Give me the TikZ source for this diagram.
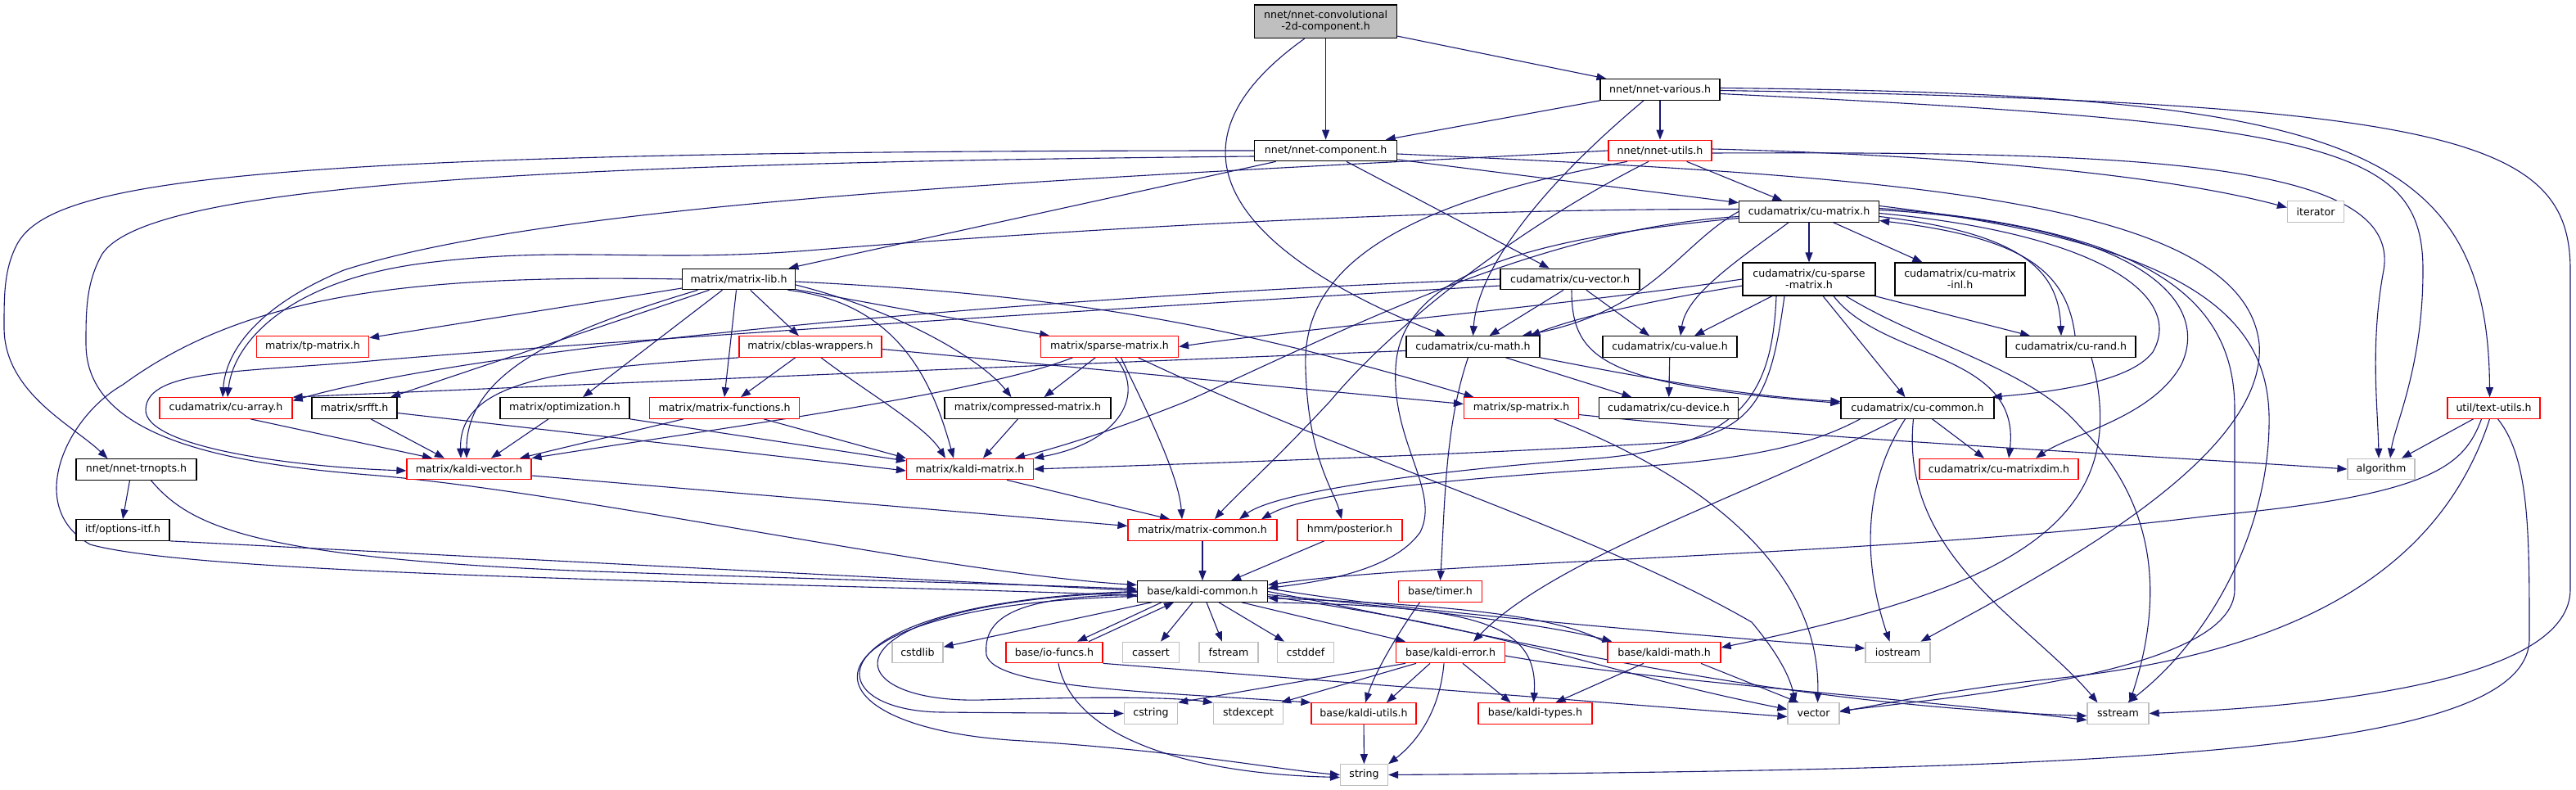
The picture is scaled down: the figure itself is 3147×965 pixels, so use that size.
\documentclass[tikz,border=0pt]{standalone}
\usepackage{fontspec}
\setmainfont{DejaVu Sans}
\usetikzlibrary{arrows.meta}
\pgfdeclarelayer{bg}
\pgfsetlayers{bg,main}
\definecolor{eb}{HTML}{191970}
\definecolor{gb}{HTML}{BFBFBF}
\definecolor{rb}{HTML}{FF0000}
\begin{document}
\begin{tikzpicture}[x=1pt,y=-1pt,
  nd/.style={draw=black, line width=1.2pt, fill=white, inner sep=0pt, minimum height=25.5pt, font=\fontsize{12.6}{14}\selectfont, align=center},
  rn/.style={nd, draw=rb},
  gn/.style={nd, draw=gb},
  e/.style={draw=eb, line width=1.1pt, -{Triangle[length=12pt,width=9pt]}}]
\useasboundingbox (0,0) rectangle (3147,965);
% nodes
\node[nd, fill=gb, minimum width=174pt, minimum height=40.7pt] (conv) at (1619.6,26.3) {nnet/nnet-convolutional\\-2d-component.h};
\node[nd, minimum width=146pt] (various) at (2028,109.5) {nnet/nnet-various.h};
\node[nd, minimum width=174pt] (comp) at (1619.6,184) {nnet/nnet-component.h};
\node[rn, minimum width=126pt] (utils) at (2028,184) {nnet/nnet-utils.h};
\node[nd, minimum width=171pt] (cumatrix) at (2210,258.5) {cudamatrix/cu-matrix.h};
\node[gn, minimum width=69pt] (iterator) at (2829,258.5) {iterator};
\node[nd, minimum width=138pt] (matlib) at (902.5,341) {matrix/matrix-lib.h};
\node[nd, minimum width=170pt] (cuvector) at (1918,341) {cudamatrix/cu-vector.h};
\node[nd, minimum width=162pt, minimum height=40pt] (cusparse) at (2210,341) {cudamatrix/cu-sparse\\-matrix.h};
\node[nd, minimum width=159pt, minimum height=40pt] (cuinl) at (2394.5,341) {cudamatrix/cu-matrix\\-inl.h};
\node[rn, minimum width=137pt] (tp) at (382,423.5) {matrix/tp-matrix.h};
\node[rn, minimum width=174pt] (cblas) at (990,423.5) {matrix/cblas-wrappers.h};
\node[rn, minimum width=168pt] (sparse) at (1355.5,423.5) {matrix/sparse-matrix.h};
\node[nd, minimum width=163pt] (cumath) at (1799.5,423.5) {cudamatrix/cu-math.h};
\node[nd, minimum width=164pt] (cuvalue) at (2040,423.5) {cudamatrix/cu-value.h};
\node[nd, minimum width=158pt] (curand) at (2530,423.5) {cudamatrix/cu-rand.h};
\node[rn, minimum width=162pt] (cuarray) at (276,498.5) {cudamatrix/cu-array.h};
\node[nd, minimum width=104pt] (srfft) at (433,498.5) {matrix/srfft.h};
\node[nd, minimum width=158pt] (optim) at (690,498.5) {matrix/optimization.h};
\node[rn, minimum width=183pt] (mfunc) at (885,498.5) {matrix/matrix-functions.h};
\node[nd, minimum width=203pt] (compr) at (1255.5,498.5) {matrix/compressed-matrix.h};
\node[rn, minimum width=140pt] (sp) at (1858.5,498.5) {matrix/sp-matrix.h};
\node[nd, minimum width=170pt] (cudevice) at (2038.5,498.5) {cudamatrix/cu-device.h};
\node[nd, minimum width=187pt] (cucommon) at (2342.5,498.5) {cudamatrix/cu-common.h};
\node[rn, minimum width=113pt] (textutils) at (3046.5,498.5) {util/text-utils.h};
\node[rn, minimum width=152pt] (kvec) at (573,573) {matrix/kaldi-vector.h};
\node[nd, minimum width=147pt] (trnopts) at (166.5,573.5) {nnet/nnet-trnopts.h};
\node[rn, minimum width=155pt] (kmat) at (1185,573) {matrix/kaldi-matrix.h};
\node[rn, minimum width=194pt] (cudim) at (2442,573) {cudamatrix/cu-matrixdim.h};
\node[gn, minimum width=82pt] (algorithm) at (2909,573) {algorithm};
\node[nd, minimum width=114pt] (optitf) at (150,647.5) {itf/options-itf.h};
\node[rn, minimum width=182pt] (mcommon) at (1469,647.5) {matrix/matrix-common.h};
\node[rn, minimum width=128pt] (posterior) at (1649,647.5) {hmm/posterior.h};
\node[nd, minimum width=159pt] (kcommon) at (1469,722.5) {base/kaldi-common.h};
\node[rn, minimum width=102pt] (timer) at (1759.5,722.5) {base/timer.h};
\node[gn, minimum width=62pt] (cstdlib) at (1121,797) {cstdlib};
\node[rn, minimum width=118pt] (iofuncs) at (1288,797) {base/io-funcs.h};
\node[gn, minimum width=69pt] (cassert) at (1406,797) {cassert};
\node[gn, minimum width=72pt] (fstream) at (1501,797) {fstream};
\node[gn, minimum width=69pt] (cstddef) at (1595,797) {cstddef};
\node[rn, minimum width=133pt] (kerror) at (1772,797) {base/kaldi-error.h};
\node[rn, minimum width=138pt] (kmath) at (2033,797) {base/kaldi-math.h};
\node[gn, minimum width=79pt] (iostream) at (2318.5,797) {iostream};
\node[gn, minimum width=65pt] (cstring) at (1406,871.5) {cstring};
\node[gn, minimum width=85pt] (stdexcept) at (1525,871.5) {stdexcept};
\node[rn, minimum width=128pt] (kutils) at (1666,871.5) {base/kaldi-utils.h};
\node[rn, minimum width=139pt] (ktypes) at (1875.5,871.5) {base/kaldi-types.h};
\node[gn, minimum width=63pt] (vector) at (2215.5,871.5) {vector};
\node[gn, minimum width=75pt] (sstream) at (2587.5,871.5) {sstream};
\node[gn, minimum width=58pt] (string) at (1666.5,946.5) {string};
\begin{pgfonlayer}{bg}
\fill[white] (0,0) rectangle (3147,965);
% conv
\draw[e] (conv) -- (comp);
\draw[e] (conv) -- (various);
\draw[e] ([xshift=-26]conv.south) .. controls (1380,200) and (1560,330) .. ([xshift=-34]cumath.north);
% various
\draw[e] (various) -- (comp);
\draw[e] (various) -- (utils);
\draw[e] ([xshift=-20]various.south) .. controls (1880,230) and (1805,330) .. (cumath.north);
\draw[e] ([yshift=2]various.east) .. controls (2850,115) and (3040,170) .. ([xshift=-5]textutils.north);
\draw[e] ([yshift=-1]various.east) .. controls (3000,125) and (3140,170) .. (3140,330) -- (3140,720) .. controls (3140,820) and (2900,860) .. (sstream.east);
\draw[e] ([yshift=-5]various.east) .. controls (2850,150) and (2960,180) .. (2960,330) .. controls (2960,450) and (2925,520) .. ([xshift=11]algorithm.north);
% comp
\draw[e] (comp) -- (matlib);
\draw[e] (comp) -- (cuvector);
\draw[e] (comp) -- (cumatrix);
\draw[e] (comp.west) .. controls (300,184) and (60,220) .. (20,300) .. controls (5,330) and (5,360) .. (5,400) .. controls (5,480) and (90,520) .. ([xshift=-35]trnopts.north);
\draw[e] ([yshift=-7]comp.west) .. controls (600,200) and (180,230) .. (125,310) .. controls (105,345) and (105,380) .. (105,420) .. controls (105,530) and (260,565) .. (450,580) .. controls (700,600) and (1150,700) .. ([yshift=8]kcommon.west);
\draw[e] ([yshift=-4]comp.east) .. controls (2300,215) and (2740,240) .. (2760,420) .. controls (2770,560) and (2500,700) .. ([xshift=28]iostream.north);
% utils
\draw[e] (utils) -- (cumatrix);
\draw[e] ([yshift=2]utils.east) .. controls (2400,190) and (2650,215) .. ([yshift=5]iterator.west);
\draw[e] ([yshift=-3]utils.east) .. controls (2600,185) and (2935,195) .. (2912,330) .. controls (2895,420) and (2905,500) .. ([xshift=-3]algorithm.north);
\draw[e] (utils.west) .. controls (1400,215) and (700,240) .. (420,330) .. controls (300,380) and (275,440) .. ([xshift=-4]cuarray.north);
\draw[e] ([xshift=-40]utils.south) .. controls (1700,250) and (1590,330) .. (1595,450) .. controls (1598,560) and (1630,600) .. ([xshift=-10]posterior.north);
\draw[e] ([xshift=-14]utils.south) .. controls (1850,280) and (1700,400) .. (1625,490) .. controls (1560,560) and (1505,610) .. ([xshift=15]mcommon.north);
% cumatrix
\draw[e] (cumatrix) -- (cusparse);
\draw[e] (cumatrix) -- (cuinl);
\draw[e] ([yshift=-6]cumatrix.east) .. controls (2470,285) and (2515,330) .. ([xshift=-12]curand.north);
\draw[e] ([xshift=5]curand.north) .. controls (2525,330) and (2470,290) .. ([yshift=-11]cumatrix.east);
\draw[e] ([yshift=-2]cumatrix.east) .. controls (2560,285) and (2670,360) .. (2630,430) .. controls (2600,470) and (2490,480) .. ([xshift=-3]cucommon.north east);
\draw[e] ([yshift=2]cumatrix.east) .. controls (2620,275) and (2700,370) .. (2665,445) .. controls (2630,510) and (2530,530) .. ([xshift=45]cudim.north);
\draw[e] ([yshift=4]cumatrix.east) .. controls (2650,280) and (2730,380) .. (2730,500) -- (2730,720) .. controls (2730,820) and (2400,850) .. ([yshift=3]vector.east);
\draw[e] ([yshift=7]cumatrix.east) .. controls (2700,300) and (2775,400) .. (2772,520) .. controls (2770,650) and (2700,780) .. ([xshift=12]sstream.north);
\draw[e] (cumatrix.west) .. controls (2050,300) and (2020,380) .. ([xshift=60]cumath.north);
\draw[e] ([xshift=-25]cumatrix.south) .. controls (2120,320) and (2060,360) .. ([xshift=13]cuvalue.north);
\draw[e] ([yshift=3]cumatrix.west) .. controls (1700,255) and (1250,285) .. (1000,305) .. controls (800,322) and (700,300) .. (530,320) .. controls (350,340) and (285,420) .. ([xshift=2]cuarray.north);
\draw[e] ([yshift=-6]cumatrix.west) .. controls (1880,280) and (1650,400) .. (1450,490) .. controls (1350,530) and (1280,550) .. ([xshift=55]kmat.north);
\draw[e] ([yshift=-8]cumatrix.west) .. controls (1880,290) and (1710,330) .. (1705,450) .. controls (1700,540) and (1760,600) .. (1735,650) .. controls (1700,700) and (1600,712) .. ([yshift=4]kcommon.east);
% matlib
\draw[e] (matlib) -- (tp);
\draw[e] (matlib) -- (cblas);
\draw[e] (matlib) -- (sparse);
\draw[e] ([xshift=-36]matlib.south) -- ([xshift=44]srfft.north);
\draw[e] ([xshift=-20]matlib.south) -- ([xshift=22]optim.north);
\draw[e] ([xshift=-3]matlib.south) -- (mfunc.north);
\draw[e] ([yshift=-7]matlib.east) .. controls (1100,380) and (1200,440) .. ([xshift=-20]compr.north);
\draw[e] ([yshift=-3]matlib.east) .. controls (1300,360) and (1500,395) .. ([xshift=-58]sp.north);
\draw[e] ([xshift=60]matlib.south) .. controls (1100,370) and (1140,470) .. ([xshift=-20]kmat.north);
\draw[e] ([xshift=-50]matlib.south) .. controls (700,400) and (570,450) .. ([xshift=-3]kvec.north);
\draw[e] (matlib.west) .. controls (500,335) and (300,360) .. (150,470) .. controls (80,510) and (30,620) .. (110,665) .. controls (250,705) and (1000,712) .. ([yshift=-5]kcommon.west);
% cblas
\draw[e] (cblas) -- ([xshift=20]mfunc.north);
\draw[e] ([xshift=13]cblas.south) .. controls (1060,480) and (1130,520) .. ([xshift=-30]kmat.north);
\draw[e] ([yshift=-3]cblas.east) -- ([yshift=5]sp.west);
\draw[e] (cblas.south west) .. controls (700,450) and (560,460) .. ([xshift=-10]kvec.north);
% sparse
\draw[e] ([xshift=-45]sparse.south) .. controls (1200,480) and (900,520) .. (kvec.north east);
\draw[e] (sparse) -- ([xshift=20]compr.north);
\draw[e] ([xshift=7]sparse.south) .. controls (1400,480) and (1370,540) .. (kmat.north east);
\draw[e] ([xshift=14]sparse.south) .. controls (1400,500) and (1440,580) .. ([xshift=-25]mcommon.north);
\draw[e] ([xshift=35]sparse.south) .. controls (1650,560) and (1950,650) .. (2140,760) .. controls (2165,790) and (2185,820) .. ([xshift=-22]vector.north);
% cuvector
\draw[e] ([xshift=-8]cuvector.south) -- ([xshift=20]cumath.north);
\draw[e] ([xshift=20]cuvector.south) -- ([xshift=-25]cuvalue.north);
\draw[e] ([xshift=2]cuvector.south) .. controls (1920,440) and (1960,470) .. ([yshift=6]cucommon.west);
\draw[e] (cuvector.west) .. controls (1300,360) and (600,420) .. ([yshift=9]cuarray.east);
\draw[e] ([yshift=-8]cuvector.west) .. controls (1300,380) and (700,420) .. (463,440) .. controls (300,455) and (180,450) .. (178,500) .. controls (176,545) and (350,570) .. ([yshift=-2]kvec.west);
% cusparse
\draw[e] (cusparse.west) .. controls (1900,375) and (1600,400) .. (sparse.east);
\draw[e] ([yshift=-8]cusparse.west) .. controls (2000,370) and (1920,390) .. ([xshift=70]cumath.north);
\draw[e] ([xshift=-45]cusparse.south) -- ([xshift=30]cuvalue.north);
\draw[e] (cusparse) -- ([xshift=-50]curand.north);
\draw[e] ([xshift=17]cusparse.south) -- ([xshift=-15]cucommon.north);
\draw[e] ([xshift=30]cusparse.south) .. controls (2300,440) and (2470,430) .. ([xshift=12]cudim.north);
\draw[e] ([xshift=-30]cusparse.south) .. controls (2165,470) and (2150,525) .. (2050,540) .. controls (1800,555) and (1500,565) .. (kmat.east);
\draw[e] ([xshift=-40]cusparse.south) .. controls (2165,480) and (2130,545) .. (1950,560) .. controls (1750,575) and (1560,600) .. ([xshift=45]mcommon.north);
\draw[e] ([xshift=45]cusparse.south) .. controls (2350,420) and (2480,450) .. (2540,520) .. controls (2600,580) and (2660,680) .. ([xshift=14]sstream.north);
% sp
\draw[e] ([xshift=40]sp.south) .. controls (2050,570) and (2225,680) .. ([xshift=5]vector.north);
\draw[e] ([yshift=-8]sp.east) .. controls (2200,535) and (2600,555) .. (algorithm.west);
% cumath
\draw[e] ([xshift=40]cumath.south) -- ([xshift=-45]cudevice.north);
\draw[e] (cumath.south east) .. controls (2050,470) and (2150,485) .. ([yshift=8]cucommon.west);
\draw[e] ([xshift=-6]cumath.south) .. controls (1765,520) and (1765,620) .. (timer.north);
\draw[e] ([yshift=-5]cumath.west) .. controls (1300,445) and (700,470) .. (cuarray.north east);
% others mid
\draw[e] (cuvalue) -- (cudevice);
\draw[e] ([xshift=25]curand.south) .. controls (2610,640) and (2450,720) .. ([yshift=6]kmath.east);
\draw[e] ([xshift=18]cucommon.south) -- ([xshift=-18]cudim.north);
\draw[e] ([xshift=-15]cucommon.south) .. controls (2270,600) and (2280,700) .. ([xshift=-10]iostream.north);
\draw[e] ([xshift=-5]cucommon.south) .. controls (2320,680) and (2480,760) .. ([xshift=-25]sstream.north);
\draw[e] ([xshift=-25]cucommon.south) .. controls (2150,600) and (1900,680) .. ([xshift=28]kerror.north);
\draw[e] ([xshift=-70]cucommon.south) .. controls (2220,540) and (2150,560) .. (2000,570) .. controls (1780,585) and (1600,600) .. ([xshift=72]mcommon.north);
% textutils
\draw[e] ([xshift=-25]textutils.south) -- ([xshift=25]algorithm.north);
\draw[e] ([xshift=-15]textutils.south) .. controls (3010,570) and (2970,605) .. (2700,630) .. controls (2300,680) and (1750,685) .. ([yshift=8]kcommon.east);
\draw[e] ([xshift=-5]textutils.south) .. controls (2980,700) and (2800,800) .. (2500,830) .. controls (2400,840) and (2300,860) .. ([yshift=2]vector.east);
\draw[e] ([xshift=5]textutils.south) .. controls (3090,560) and (3090,650) .. (3090,780) .. controls (3090,920) and (2600,940) .. (string.east);
% matrix level
\draw[e] ([xshift=30]cuarray.south) -- ([xshift=-45]kvec.north);
\draw[e] ([xshift=20]srfft.south) -- ([xshift=-30]kvec.north);
\draw[e] ([yshift=-6]srfft.east) -- ([yshift=-2]kmat.west);
\draw[e] ([xshift=-20]optim.south) -- ([xshift=27]kvec.north);
\draw[e] (optim.south east) -- ([yshift=10]kmat.west);
\draw[e] ([xshift=-50]mfunc.south) -- ([xshift=62]kvec.north);
\draw[e] ([xshift=48]mfunc.south) -- (kmat.north west);
\draw[e] ([xshift=-12]compr.south) -- ([xshift=16]kmat.north);
\draw[e] ([yshift=-8]kvec.east) -- ([yshift=5]mcommon.west);
\draw[e] ([xshift=45]kmat.south) -- ([xshift=-40]mcommon.north);
\draw[e] ([xshift=-8]trnopts.south) -- (optitf.north);
\draw[e] ([xshift=18]trnopts.south) .. controls (230,640) and (300,680) .. (700,697) .. controls (1000,708) and (1200,712) .. ([yshift=3]kcommon.west);
\draw[e] (optitf.south east) -- ([yshift=1]kcommon.west);
\draw[e] (mcommon) -- (kcommon);
\draw[e] (posterior) -- ([xshift=35]kcommon.north);
% kcommon
\draw[e] (kcommon) -- (cstdlib);
\draw[e] ([xshift=-50]kcommon.south) -- ([xshift=28]iofuncs.north);
\draw[e] ([xshift=42]iofuncs.north) -- ([xshift=-35]kcommon.south);
\draw[e] ([xshift=-12]kcommon.south) -- ([xshift=12]cassert.north);
\draw[e] ([xshift=5]kcommon.south) -- ([xshift=-8]fstream.north);
\draw[e] ([xshift=20]kcommon.south) -- ([xshift=-26]cstddef.north);
\draw[e] ([xshift=48]kcommon.south) -- ([xshift=-55]kerror.north);
\draw[e] ([yshift=-4]kcommon.east) .. controls (1750,745) and (1900,765) .. ([xshift=6]kmath.north west);
\draw[e] ([xshift=-4]kmath.north west) .. controls (1900,750) and (1750,738) .. ([yshift=-8]kcommon.east);
\draw[e] ([yshift=4]kcommon.east) .. controls (1700,745) and (2000,770) .. ([yshift=5]iostream.west);
\draw[e] (kcommon.east) .. controls (1850,780) and (2150,860) .. ([yshift=-3]sstream.west);
\draw[e] ([yshift=-6]kcommon.east) .. controls (1850,770) and (1950,820) .. ([yshift=5]vector.west);
\draw[e] (kcommon.south east) .. controls (1800,740) and (1880,760) .. ([xshift=-2]ktypes.north);
\draw[e] ([yshift=-4]kcommon.west) .. controls (1250,728) and (1200,750) .. (1205,800) .. controls (1215,840) and (1400,845) .. (kutils.north west);
\draw[e] ([yshift=-1]kcommon.west) .. controls (1000,735) and (1010,860) .. (1200,855) .. controls (1300,852) and (1420,850) .. (stdexcept.north west);
\draw[e] (kcommon.west) .. controls (990,735) and (990,868) .. (1150,870) .. controls (1250,871) and (1320,871) .. (cstring.west);
\draw[e] ([yshift=-6]kcommon.west) .. controls (960,738) and (960,890) .. (1250,905) .. controls (1450,918) and (1560,940) .. (string.west);
% bottom
\draw[e] ([xshift=5]iofuncs.south) .. controls (1310,900) and (1450,945) .. ([yshift=-3]string.west);
\draw[e] (iofuncs.south east) -- ([yshift=-4]vector.west);
\draw[e] ([xshift=-55]kerror.south) -- (cstring.north east);
\draw[e] ([xshift=-42]kerror.south) -- ([xshift=40]stdexcept.north);
\draw[e] ([xshift=-25]kerror.south) -- ([xshift=28]kutils.north);
\draw[e] ([xshift=-8]kerror.south) .. controls (1758,880) and (1720,915) .. (string.north east);
\draw[e] ([xshift=15]kerror.south) -- ([xshift=-30]ktypes.north);
\draw[e] ([yshift=-4]kerror.east) .. controls (2000,830) and (2300,850) .. ([yshift=-8]sstream.west);
\draw[e] ([xshift=-25]kmath.south) -- ([xshift=25]ktypes.north);
\draw[e] ([xshift=45]kmath.south) -- ([xshift=-18]vector.north);
\draw[e] (kutils) -- (string);
\draw[e] ([xshift=-25]timer.south) .. controls (1710,770) and (1680,820) .. ([xshift=2]kutils.north);
\end{pgfonlayer}
\end{tikzpicture}
\end{document}
